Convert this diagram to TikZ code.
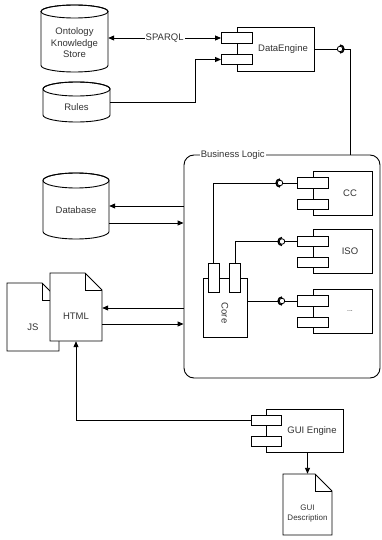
\documentclass[tikz,border=0pt]{standalone}
\usepackage{fontspec}
\setmainfont{Liberation Sans}
\usetikzlibrary{arrows.meta,calc}
\newcommand\mycyl[5]{%
 \draw[shp] (#1,{-(#3)-(#5)}) -- (#1,{-(#4)+(#5)}) arc[start angle=180,end angle=360,x radius={((#2)-(#1))/2},y radius=#5] -- (#2,{-(#3)-(#5)}) arc[start angle=0,end angle=180,x radius={((#2)-(#1))/2},y radius=#5] -- cycle;
 \draw[ln] ({((#1)+(#2))/2},{-(#3)-(#5)}) ellipse [x radius={((#2)-(#1))/2},y radius=#5];}
\newcommand\mydoc[5]{%
 \draw[shp] (#1,-#2) -- ({#3-#5},-#2) -- (#3,{-#2-#5}) -- (#3,-#4) -- (#1,-#4) -- cycle;
 \draw[ln] ({#3-#5},-#2) -- ({#3-#5},{-#2-#5}) -- (#3,{-#2-#5});}
\begin{document}
\begin{tikzpicture}[x=1pt,y=1pt,
  every node/.style={text=black!80, font=\fontsize{9.5}{11.5}\selectfont},
  ln/.style={line width=0.9pt, draw=black},
  arr/.style={ln, -{Triangle[length=6pt,width=5pt]}},
  darr/.style={ln, {Triangle[length=6pt,width=5pt]}-{Triangle[length=6pt,width=5pt]}},
  shp/.style={line width=0.9pt, draw=black, fill=white},
  bounds/.style={inner sep=0, draw=none, fill=none},
  cbox/.style={shp, inner sep=0, minimum height=44pt},
  port/.style={shp, inner sep=0, minimum width=31pt, minimum height=10.5pt},
  vport/.style={shp, inner sep=0, minimum width=11pt, minimum height=29pt},
  ball/.style={circle, draw=black, line width=0.8pt, fill=white, inner sep=0, minimum size=5.5pt},
  sock/.style={line width=1.5pt, draw=black}
]
\useasboundingbox (0,0) rectangle (381,-540);

% ---- cylinders
\mycyl{41}{108}{5}{72}{6.5}
\node[bounds, minimum width=67pt, minimum height=67pt] (onto) at (74.5,-38.5) {};
\node[align=center] (ontotxt) at (74.5,-43) {Ontology\\Knowledge\\Store};

\mycyl{43}{110}{82}{122}{7}
\node[bounds, minimum width=67pt, minimum height=40pt] (rules) at (76.5,-102.5) {};
\node (rulestxt) at (76.5,-107) {Rules};

\mycyl{43}{109}{173}{239}{7.5}
\node[bounds, minimum width=66pt, minimum height=66pt] (db) at (76,-206) {};
\node (dbtxt) at (76,-210) {Database};

% ---- documents
\mydoc{7}{283}{59}{351}{17}
\node[bounds, minimum width=52pt, minimum height=68pt] (js) at (33,-317) {};
\node (jstxt) at (33,-327) {JS};

\mydoc{50}{273}{102}{341}{17}
\node[bounds, minimum width=52pt, minimum height=68pt] (html) at (76,-307) {};
\node (htmltxt) at (76,-316) {HTML};

\mydoc{283}{474}{332}{535}{17}
\node[bounds, minimum width=49pt, minimum height=61pt] (guid) at (307.5,-504.5) {};
\node[align=center, font=\fontsize{8}{10}\selectfont] (guidtxt) at (307.5,-514) {GUI\\Description};

% ---- DataEngine
\node[cbox, minimum width=77pt] (de) at (275.5,-49) {};
\node[port] (dep1) at (237,-38) {};
\node[port] (dep2) at (237,-59.5) {};
\node (detxt) at (283,-49) {DataEngine};

% ---- Business Logic
\node[shp, rounded corners=10pt, inner sep=0, minimum width=196pt, minimum height=223pt] (bl) at (282,-266.5) {};
\node[fill=white, inner sep=1pt, anchor=west] (bltitle) at ([xshift=16pt]bl.north west) {Business Logic};

\node[cbox, minimum width=59pt] (cc) at (342.5,-193.5) {};
\node[port] (ccp1) at (313,-183) {};
\node[port] (ccp2) at (313,-204.5) {};
\node (cctxt) at (350,-193.5) {CC};

\node[cbox, minimum width=59pt] (iso) at (342.5,-251) {};
\node[port] (isop1) at (313,-241.5) {};
\node[port] (isop2) at (313,-262.5) {};
\node (isotxt) at (350,-251) {ISO};

\node[cbox, minimum width=59pt] (dots) at (342.5,-311) {};
\node[port] (dotp1) at (313,-301) {};
\node[port] (dotp2) at (313,-322.5) {};
\node[font=\fontsize{7}{8}\selectfont] (dottxt) at (350,-311) {...};

\node[shp, inner sep=0, minimum width=44pt, minimum height=59pt] (core) at (225,-307.5) {};
\node[vport] (corep1) at (213.5,-277.5) {};
\node[vport] (corep2) at (235,-277.5) {};
\node[rotate=-90] (coretxt) at (225,-313) {Core};

% ---- GUI Engine
\node[cbox, minimum width=77pt, minimum height=43pt] (gui) at (304.5,-430.5) {};
\node[port, minimum width=30pt, minimum height=9.5pt] (guip1) at (266,-420.5) {};
\node[port, minimum width=30pt, minimum height=9.5pt] (guip2) at (266,-441.5) {};
\node (guitxt) at (312,-431) {GUI Engine};

% ---- connectors
\draw[darr] (dep1.west) -- (onto.east |- dep1.west) node[midway, fill=white, inner sep=1pt] (sparql) {SPARQL};
\draw[arr] (rules.east) -| ([xshift=-26pt]dep2.west) -- (dep2.west);

\node[ball] (b0) at (340,-49) {};
\draw[ln] (de.east) -- (b0.west);
\draw[ln] (b0.east) -| ([xshift=-30pt]bl.north east);
\draw[sock] (b0.center) ++(-90:3.9) arc[start angle=-90,end angle=90,radius=3.9];

\node[ball] (b1) at (280,-183) {};
\node[ball] (b2) at (282,-241.5) {};
\node[ball] (b3) at (282,-301) {};
\draw[ln] (corep1.north) |- (b1.west);
\draw[ln] (b1.east) -- (ccp1.west);
\draw[ln] (corep2.north) |- (b2.west);
\draw[ln] (b2.east) -- (isop1.west);
\draw[ln] (core.east |- b3) -- (b3.west);
\draw[ln] (b3.east) -- (dotp1.west);
\foreach \b in {b1,b2,b3}{
  \draw[sock] (\b.center) ++(90:3.9) arc[start angle=90,end angle=270,radius=3.9];
}

\draw[arr] (db.east -| bl.west) -- (db.east);
\draw[arr] ([yshift=-17pt]db.east) -- ([yshift=-17pt]db.east -| bl.west);

\draw[arr] ([yshift=-1pt]html.east -| bl.west) -- ([yshift=-1pt]html.east);
\draw[arr] ([yshift=-17pt]html.east) -- ([yshift=-17pt]html.east -| bl.west);

\draw[arr] (guip1.west) -| (html.south);
\draw[arr] (gui.south -| guid.north) -- (guid.north);
\end{tikzpicture}
\end{document}
